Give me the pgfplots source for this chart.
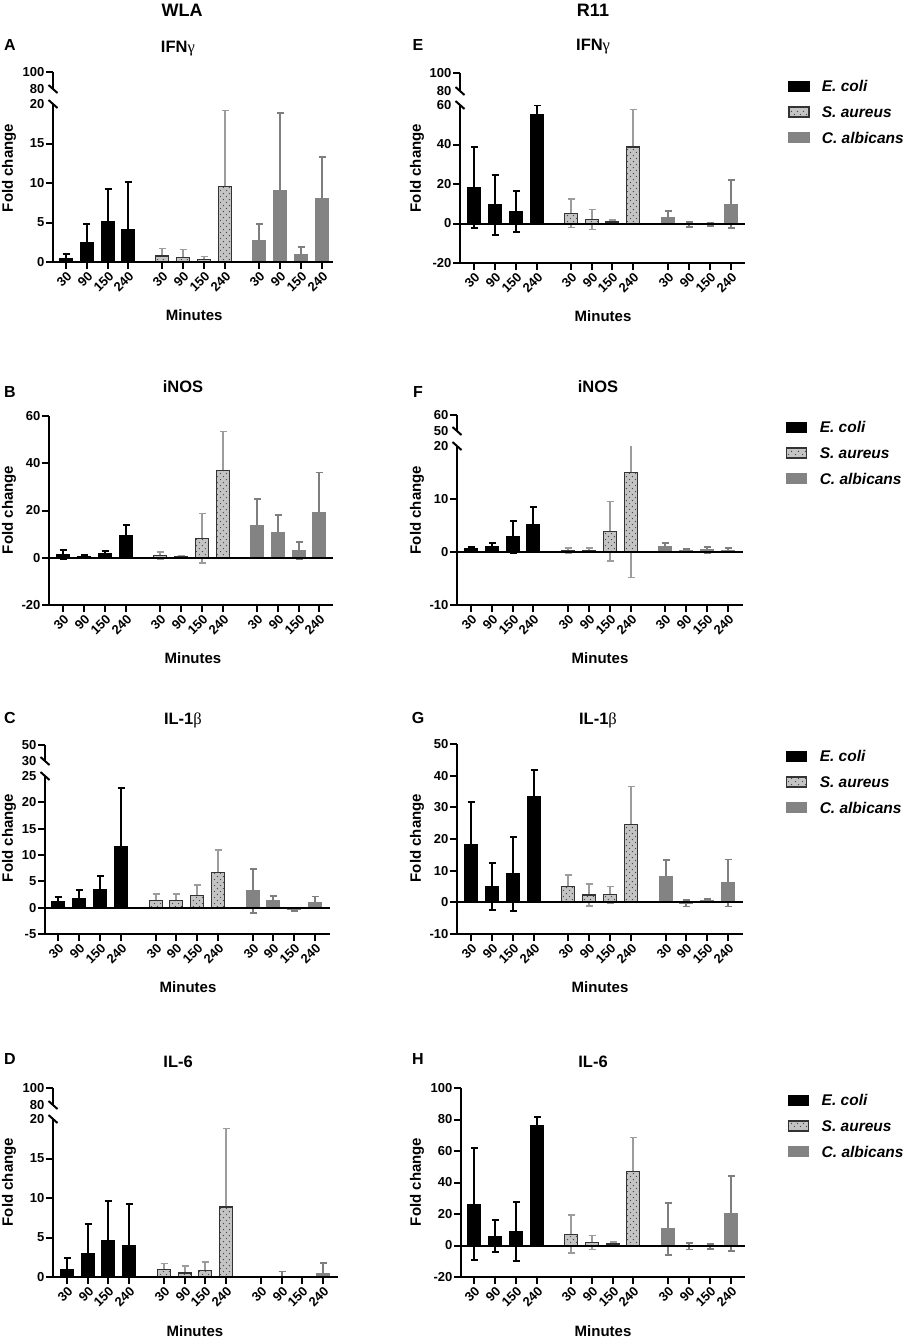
\documentclass[border=0pt]{standalone}
\usepackage{fontspec}
\setmainfont{Liberation Sans}
\newfontfamily\grk{Liberation Serif}
\usepackage{pgfplots}
\pgfplotsset{compat=1.18}
\usetikzlibrary{patterns,patterns.meta}
\pgfdeclarepattern{
  name=sdots, type=uncolored,
  bottom left={\pgfpoint{0pt}{0pt}}, top right={\pgfpoint{6.4pt}{6.4pt}},
  tile size={\pgfpoint{6.4pt}{6.4pt}},
  code={\pgfpathcircle{\pgfpoint{1.6pt}{1.6pt}}{0.75pt}\pgfpathcircle{\pgfpoint{4.8pt}{4.8pt}}{0.75pt}\pgfusepath{fill}}
}
\definecolor{saurfill}{HTML}{C4C4C4}
\definecolor{saurdot}{HTML}{4A4A4A}
\definecolor{saurerr}{HTML}{9C9C9C}
\definecolor{calbfill}{HTML}{838383}
\definecolor{calberr}{HTML}{7E7E7E}
\pgfplotsset{
  common/.style={
    scale only axis, anchor=south west,
    axis line style={line width=2pt, black},
    tick align=outside, major tick length=7pt,
    tick style={line width=2pt, black},
    /pgf/number format/assume math mode=true,
    every tick label/.style={font=\fontsize{13}{15}\selectfont\bfseries},
    yticklabel style={font=\fontsize{13}{15}\selectfont\bfseries, inner sep=1.5pt},
    axis on top,
  },
  panel/.style={common,
    axis lines*=left,
    xticklabel style={font=\fontsize{13}{15}\selectfont\bfseries, rotate=45, anchor=north east, inner sep=1pt},
    xticklabels={30,90,150,240,30,90,150,240,30,90,150,240},
    bar width=12.5pt,
    clip mode=individual,
    label style={font=\bfseries\fontsize{15}{17}\selectfont},
    title style={font=\bfseries\fontsize{16.5}{19}\selectfont, anchor=center},
    xlabel style={anchor=center}, ylabel style={anchor=center},
    xlabel={Minutes}, ylabel={Fold change},
    extra y tick style={major tick style={draw=none}},
  },
  upper/.style={common,
    axis y line*=left, axis x line=none, xtick=\empty,
    xmin=0, xmax=1, clip=false,
    extra y tick style={major tick style={draw=none}},
  },
  limg/.style={legend image code/.code={\draw[##1] (0pt,-5pt) rectangle (20pt,5pt); \node[inner sep=0pt, outer sep=0pt, draw=none, fill=none] at (32pt,0pt) {};}},
  ecoli/.style={ybar, bar shift=0pt, fill=black, draw=black, line width=1.3pt, limg},
  saur/.style={ybar, bar shift=0pt, fill=saurfill, draw=black!80, line width=1.3pt, postaction={pattern={sdots}, pattern color=saurdot}, limg},
  calb/.style={ybar, bar shift=0pt, fill=calbfill, draw=calbfill, line width=1.3pt, limg},
  errs/.style 2 args={forget plot,
    error bars/y dir=both, error bars/y explicit,
    error bars/error bar style={line width=#2, draw=#1, solid},
    error bars/error mark options={rotate=90, line width=#2, draw=#1, mark size=3.5pt}},
  errk/.style={errs={black}{2pt}},
  errs2/.style={errs={saurerr}{1.6pt}},
  errc/.style={errs={calberr}{1.7pt}},
  leg/.style={legend style={draw=none, fill=none, at={#1}, anchor=west, inner sep=0pt, row sep=12.7pt,
      nodes={inner sep=0pt, text height=12pt, text depth=1pt, font=\bfseries\itshape\fontsize{15.5}{17}\selectfont}},
    legend cell align=left},
}
\newcommand{\brk}{\draw[line width=2pt] (rel axis cs:0,1) ++(-4.5pt,4pt) -- ++(9pt,-8pt);}
\newcommand{\brkup}{\draw[line width=2pt] (rel axis cs:0,0) ++(-4.5pt,4pt) -- ++(9pt,-8pt);}
\begin{document}
\begin{tikzpicture}
\path[use as bounding box] (0pt,0pt) rectangle (904pt,-1339pt);
\node[font=\bfseries\fontsize{18}{20}\selectfont] at (182pt,-10pt) {WLA};
\node[font=\bfseries\fontsize{18}{20}\selectfont] at (593pt,-10pt) {R11};
\foreach \L/\X/\Y in {A/10/45,E/418/45,B/10/392,F/418/392,C/10/718,G/418/718,D/10/1059,H/418/1059}
  \node[font=\bfseries\fontsize{16}{18}\selectfont] at (\X pt,-\Y pt) {\L};

% ---------------- Panel A ----------------
\begin{axis}[upper, at={(53pt,-89pt)}, width=280pt, height=17pt, ymin=80, ymax=100,
  ytick={100}, extra y ticks={80}]
\brkup
\end{axis}
\begin{axis}[panel, at={(53pt,-262pt)}, width=280pt, height=158pt,
  xmin=53, xmax=333, ymin=0, ymax=20,
  xtick={66,87,108,128,162,183,204,225,259,280,301,322},
  ytick={0,5,10,15}, extra y ticks={20},
  title={IFN{\grk\mdseries γ}},
  title style={at={(axis description cs:0.446,1.310)}},
  ylabel style={at={(axis description cs:-0.157,0.595)}},
  xlabel style={at={(axis description cs:0.504,-0.335)}}]
\addplot[ecoli, errk] coordinates {(66,0.4)+-(0,0.57) (87,2.45)+-(0,2.32) (108,5.1)+-(0,4.2) (128,4.05)+-(0,6.05)};
\addplot[saur, errs2] coordinates {(162,0.76)+-(0,0.94) (183,0.55)+-(0,1.05) (204,0.3)+-(0,0.38) (225,9.54)+-(0,9.66)};
\addplot[calb, errc] coordinates {(259,2.74)+-(0,2.03) (280,9.0)+-(0,9.9) (301,0.97)+-(0,0.93) (322,7.97)+-(0,5.28)};
\addplot[ecoli] coordinates {(66,0.4) (87,2.45) (108,5.1) (128,4.05)};
\addplot[saur] coordinates {(162,0.76) (183,0.55) (204,0.3) (225,9.54)};
\addplot[calb] coordinates {(259,2.74) (280,9.0) (301,0.97) (322,7.97)};
\brk
\end{axis}

% ---------------- Panel E ----------------
\begin{axis}[upper, at={(460pt,-91pt)}, width=285pt, height=18pt, ymin=80, ymax=100,
  ytick={100}, extra y ticks={80}]
\brkup
\end{axis}
\begin{axis}[panel, at={(460pt,-263pt)}, width=285pt, height=158pt,
  xmin=460, xmax=745, ymin=-20, ymax=60,
  xtick={474,495,516,537,571,592,612,633,668,689,710,731},
  ytick={-20,0,20,40}, extra y ticks={60},
  title={IFN{\grk\mdseries γ}},
  title style={at={(axis description cs:0.467,1.329)}},
  ylabel style={at={(axis description cs:-0.151,0.601)}},
  xlabel style={at={(axis description cs:0.502,-0.335)}},
  leg={(1.151,0.956)}]
\addplot[ecoli, errk] coordinates {(474,18.1)+-(0,20.5) (495,9.3)+-(0,15.1) (516,6.1)+-(0,10.3) (537,54.9)+-(0,4.9)};
\addplot[saur, errs2] coordinates {(571,5.1)+-(0,7.2) (592,2.0)+-(0,5.1) (612,0.7)+-(0,1.2) (633,38.8)+-(0,19.0)};
\addplot[calb, errc] coordinates {(668,3.05)+-(0,3.2) (689,-0.4)+-(0,1.2) (710,-0.4)+-(0,0.9) (731,9.8)+-(0,12.2)};
\addplot[ecoli] coordinates {(474,18.1) (495,9.3) (516,6.1) (537,54.9)};
\addlegendentry{E. coli}
\addplot[saur] coordinates {(571,5.1) (592,2.0) (612,0.7) (633,38.8)};
\addlegendentry{S. aureus}
\addplot[calb] coordinates {(668,3.05) (689,-0.4) (710,-0.4) (731,9.8)};
\addlegendentry{C. albicans}
\draw[line width=2pt] (axis cs:460,0) -- (axis cs:745,0);
\brk
\end{axis}

% ---------------- Panel B ----------------
\begin{axis}[panel, at={(49pt,-605pt)}, width=284pt, height=189pt,
  xmin=49, xmax=333, ymin=-20, ymax=60,
  xtick={63,84,105,126,160,181,202,223,257,278,299,319},
  ytick={-20,0,20,40,60},
  title={iNOS},
  title style={at={(axis description cs:0.472,1.122)}},
  ylabel style={at={(axis description cs:-0.141,0.503)}},
  xlabel style={at={(axis description cs:0.507,-0.280)}}]
\addplot[ecoli, errk] coordinates {(63,1.3)+-(0,1.9) (84,0.6)+-(0,0.5) (105,1.7)+-(0,1.3) (126,9.3)+-(0,4.5)};
\addplot[saur, errs2] coordinates {(160,0.85)+-(0,1.55) (181,0.4)+-(0,0.6) (202,8.3)+-(0,10.4) (223,37.0)+-(0,16.4)};
\addplot[calb, errc] coordinates {(257,13.5)+-(0,11.3) (278,10.6)+-(0,7.4) (299,3.1)+-(0,3.5) (319,18.9)+-(0,17.2)};
\addplot[ecoli] coordinates {(63,1.3) (84,0.6) (105,1.7) (126,9.3)};
\addplot[saur] coordinates {(160,0.85) (181,0.4) (202,8.3) (223,37.0)};
\addplot[calb] coordinates {(257,13.5) (278,10.6) (299,3.1) (319,18.9)};
\draw[line width=2pt] (axis cs:49,0) -- (axis cs:333,0);
\end{axis}

% ---------------- Panel F ----------------
\begin{axis}[upper, at={(457pt,-431pt)}, width=286pt, height=16pt, ymin=50, ymax=60,
  ytick={60}, extra y ticks={50}]
\brkup
\end{axis}
\begin{axis}[panel, at={(457pt,-605pt)}, width=286pt, height=159pt,
  xmin=457, xmax=743, ymin=-10, ymax=20,
  xtick={471,492,513,533,568,589,610,631,665,686,707,728},
  ytick={-10,0,10}, extra y ticks={20},
  title={iNOS},
  title style={at={(axis description cs:0.493,1.333)}},
  ylabel style={at={(axis description cs:-0.140,0.597)}},
  xlabel style={at={(axis description cs:0.5,-0.333)}},
  leg={(1.150,0.956)}]
\addplot[ecoli, errk] coordinates {(471,0.57)+-(0,0.4) (492,0.96)+-(0,0.75) (513,2.9)+-(0,3.0) (533,5.1)+-(0,3.3)};
\addplot[saur, errs2] coordinates {(568,0.25)+-(0,0.45) (589,0.3)+-(0,0.4) (610,3.9)+-(0,5.65) (631,15.0)+-(0,19.8)};
\addplot[calb, errc] coordinates {(665,0.96)+-(0,0.75) (686,0.25)+-(0,0.35) (707,0.4)+-(0,0.55) (728,0.3)+-(0,0.4)};
\addplot[ecoli] coordinates {(471,0.57) (492,0.96) (513,2.9) (533,5.1)};
\addlegendentry{E. coli}
\addplot[saur] coordinates {(568,0.25) (589,0.3) (610,3.9) (631,15.0)};
\addlegendentry{S. aureus}
\addplot[calb] coordinates {(665,0.96) (686,0.25) (707,0.4) (728,0.3)};
\addlegendentry{C. albicans}
\draw[line width=2pt] (axis cs:457,0) -- (axis cs:743,0);
\brk
\end{axis}

% ---------------- Panel C ----------------
\begin{axis}[upper, at={(45pt,-761pt)}, width=285pt, height=16pt, ymin=30, ymax=50,
  ytick={50}, extra y ticks={30}]
\brkup
\end{axis}
\begin{axis}[panel, at={(45pt,-934pt)}, width=285pt, height=158pt,
  xmin=45, xmax=330, ymin=-5, ymax=25,
  xtick={58,79,100,121,156,176,197,218,253,273,294,315},
  ytick={-5,0,5,10,15,20}, extra y ticks={25},
  title={IL-1{\grk\mdseries β}},
  title style={at={(axis description cs:0.484,1.316)}},
  ylabel style={at={(axis description cs:-0.126,0.608)}},
  xlabel style={at={(axis description cs:0.502,-0.335)}}]
\addplot[ecoli, errk] coordinates {(58,1.08)+-(0,0.95) (79,1.8)+-(0,1.6) (100,3.5)+-(0,2.45) (121,11.5)+-(0,11.3)};
\addplot[saur, errs2] coordinates {(156,1.4)+-(0,1.2) (176,1.4)+-(0,1.25) (197,2.35)+-(0,1.95) (218,6.7)+-(0,4.25)};
\addplot[calb, errc] coordinates {(253,3.16)+-(0,4.2) (273,1.27)+-(0,0.95) (294,-0.3)+-(0,0.35) (315,1.0)+-(0,1.1)};
\addplot[ecoli] coordinates {(58,1.08) (79,1.8) (100,3.5) (121,11.5)};
\addplot[saur] coordinates {(156,1.4) (176,1.4) (197,2.35) (218,6.7)};
\addplot[calb] coordinates {(253,3.16) (273,1.27) (294,-0.3) (315,1.0)};
\draw[line width=2pt] (axis cs:45,0) -- (axis cs:330,0);
\brk
\end{axis}

% ---------------- Panel G ----------------
\begin{axis}[panel, at={(457pt,-934pt)}, width=286pt, height=190pt,
  xmin=457, xmax=743, ymin=-10, ymax=50,
  xtick={471,492,513,534,568,589,610,631,666,686,707,728},
  ytick={-10,0,10,20,30,40,50},
  title={IL-1{\grk\mdseries β}},
  title style={at={(axis description cs:0.493,1.095)}},
  ylabel style={at={(axis description cs:-0.140,0.505)}},
  xlabel style={at={(axis description cs:0.5,-0.279)}},
  leg={(1.150,0.8)}]
\addplot[ecoli, errk] coordinates {(471,18.3)+-(0,13.5) (492,5.05)+-(0,7.4) (513,8.95)+-(0,11.6) (534,33.3)+-(0,8.6)};
\addplot[saur, errs2] coordinates {(568,4.95)+-(0,3.7) (589,2.3)+-(0,3.4) (610,2.4)+-(0,2.55) (631,24.5)+-(0,12.1)};
\addplot[calb, errc] coordinates {(666,8.1)+-(0,5.3) (686,-0.3)+-(0,1.0) (707,0.5)+-(0,0.55) (728,6.1)+-(0,7.4)};
\addplot[ecoli] coordinates {(471,18.3) (492,5.05) (513,8.95) (534,33.3)};
\addlegendentry{E. coli}
\addplot[saur] coordinates {(568,4.95) (589,2.3) (610,2.4) (631,24.5)};
\addlegendentry{S. aureus}
\addplot[calb] coordinates {(666,8.1) (686,-0.3) (707,0.5) (728,6.1)};
\addlegendentry{C. albicans}
\draw[line width=2pt] (axis cs:457,0) -- (axis cs:743,0);
\end{axis}

% ---------------- Panel D ----------------
\begin{axis}[upper, at={(53pt,-1105pt)}, width=285pt, height=17pt, ymin=80, ymax=100,
  ytick={100}, extra y ticks={80}]
\brkup
\end{axis}
\begin{axis}[panel, at={(53pt,-1277pt)}, width=285pt, height=158pt,
  xmin=53, xmax=338, ymin=0, ymax=20,
  xtick={67,88,108,129,164,185,205,226,261,282,302,323},
  ytick={0,5,10,15}, extra y ticks={20},
  title={IL-6},
  title style={at={(axis description cs:0.439,1.323)}},
  ylabel style={at={(axis description cs:-0.154,0.601)}},
  xlabel style={at={(axis description cs:0.498,-0.342)}}]
\addplot[ecoli, errk] coordinates {(67,0.97)+-(0,1.4) (88,3.0)+-(0,3.75) (108,4.56)+-(0,5.05) (129,3.97)+-(0,5.3)};
\addplot[saur, errs2] coordinates {(164,0.97)+-(0,0.72) (185,0.5)+-(0,0.9) (205,0.8)+-(0,1.1) (226,8.86)+-(0,9.94)};
\addplot[calb, errc] coordinates {(261,0)+-(0,0) (282,0.08)+-(0,0.6) (302,0)+-(0,0) (323,0.46)+-(0,1.35)};
\addplot[ecoli] coordinates {(67,0.97) (88,3.0) (108,4.56) (129,3.97)};
\addplot[saur] coordinates {(164,0.97) (185,0.5) (205,0.8) (226,8.86)};
\addplot[calb] coordinates {(261,0) (282,0.08) (302,0) (323,0.46)};
\brk
\end{axis}

% ---------------- Panel H ----------------
\begin{axis}[panel, at={(461pt,-1277pt)}, width=284pt, height=189pt,
  xmin=461, xmax=745, ymin=-20, ymax=100,
  xtick={474,495,516,537,571,592,613,633,668,689,710,731},
  ytick={-20,0,20,40,60,80,100},
  title={IL-6},
  title style={at={(axis description cs:0.465,1.106)}},
  ylabel style={at={(axis description cs:-0.155,0.503)}},
  xlabel style={at={(axis description cs:0.5,-0.286)}},
  leg={(1.151,0.799)}]
\addplot[ecoli, errk] coordinates {(474,26.2)+-(0,35.4) (495,5.9)+-(0,10.3) (516,9.1)+-(0,18.7) (537,76.0)+-(0,5.5)};
\addplot[saur, errs2] coordinates {(571,7.2)+-(0,12.1) (592,1.9)+-(0,4.5) (613,1.05)+-(0,1.3) (633,47.1)+-(0,21.5)};
\addplot[calb, errc] coordinates {(668,10.6)+-(0,16.5) (689,-0.6)+-(0,2.0) (710,-0.6)+-(0,1.5) (731,20.3)+-(0,23.8)};
\addplot[ecoli] coordinates {(474,26.2) (495,5.9) (516,9.1) (537,76.0)};
\addlegendentry{E. coli}
\addplot[saur] coordinates {(571,7.2) (592,1.9) (613,1.05) (633,47.1)};
\addlegendentry{S. aureus}
\addplot[calb] coordinates {(668,10.6) (689,-0.6) (710,-0.6) (731,20.3)};
\addlegendentry{C. albicans}
\draw[line width=2pt] (axis cs:461,0) -- (axis cs:745,0);
\end{axis}
\end{tikzpicture}
\end{document}
